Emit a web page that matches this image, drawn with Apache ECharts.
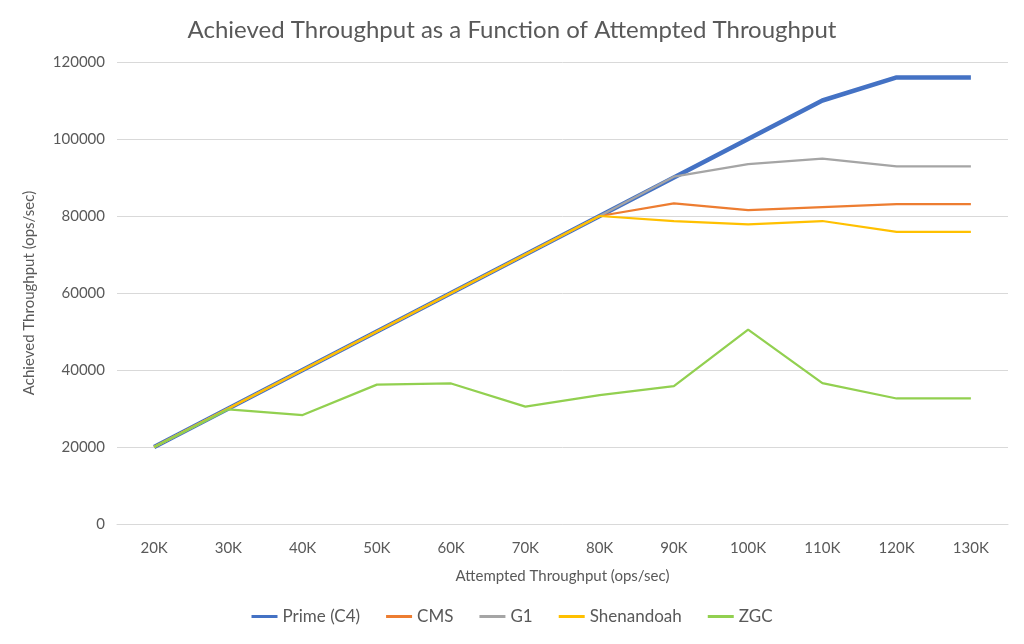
<!DOCTYPE html>
<html>
<head>
<meta charset="utf-8">
<script src="https://cdn.jsdelivr.net/npm/echarts@6/dist/echarts.min.js"></script>
<style>html,body{margin:0;padding:0;background:#fff}#c{width:1024px;height:644px}</style>
</head>
<body>
<div id="c"></div>
<script>
var categories = ['20K','30K','40K','50K','60K','70K','80K','90K','100K','110K','120K','130K'];
var prime = [20000,30000,40000,50000,60000,70000,80000,90000,100000,110000,116000,116000];
var cms = [20000,30000,40000,50000,60000,70000,80000,83300,81500,82300,83100,83100];
var g1 = [20000,30000,40000,50000,60000,70000,80000,90200,93500,94900,92900,92900];
var shenandoah = [20000,30000,40000,50000,60000,70000,80000,78700,77800,78700,75900,75900];
var zgc = [20000,29800,28300,36200,36500,30500,33500,35800,50500,36600,32600,32600];

var font = 'Lato, "Open Sans", sans-serif';
var chart = echarts.init(document.getElementById('c'));
function s(name, data, color, width) {
  return {name: name, type: 'line', data: data, symbol: 'none', smooth: false,
    lineStyle: {color: color, width: width}, itemStyle: {color: color}};
}
chart.setOption({
  animation: false,
  textStyle: {fontFamily: font},
  title: {text: 'Achieved Throughput as a Function of Attempted Throughput', left: 'center', top: 13,
    textStyle: {fontFamily: font, fontSize: 24, fontWeight: 'normal', color: '#595959'}},
  grid: {left: 117, right: 16, top: 62, bottom: 120},
  xAxis: {type: 'category', data: categories, boundaryGap: true,
    name: 'Attempted Throughput (ops/sec)', nameLocation: 'middle', nameGap: 45,
    nameTextStyle: {fontFamily: font, fontSize: 15, color: '#595959'},
    axisLine: {lineStyle: {color: '#d9d9d9', width: 1}}, axisTick: {show: false},
    axisLabel: {fontFamily: font, fontSize: 15, color: '#595959', margin: 17}},
  yAxis: {type: 'value', min: 0, max: 120000, interval: 20000,
    name: 'Achieved Throughput (ops/sec)', nameLocation: 'middle', nameGap: 80,
    nameTextStyle: {fontFamily: font, fontSize: 15, color: '#595959'},
    axisLine: {show: false}, axisTick: {show: false},
    splitLine: {lineStyle: {color: '#d9d9d9', width: 1}},
    axisLabel: {fontFamily: font, fontSize: 15, color: '#595959', margin: 12,
      formatter: function (v) { return String(v); }}},
  legend: {bottom: 14, left: 'center', itemWidth: 26, itemHeight: 3, itemGap: 26, icon: 'rect',
    textStyle: {fontFamily: font, fontSize: 17, color: '#595959'},
    data: [{name: 'Prime (C4)', itemStyle: {color: '#4472C4'}}, 'CMS', 'G1', 'Shenandoah', 'ZGC']},
  series: [
    s('Prime (C4)', prime, '#4472C4', 4.5),
    s('CMS', cms, '#ED7D31', 2.25),
    s('G1', g1, '#A5A5A5', 2.25),
    s('Shenandoah', shenandoah, '#FFC000', 2.25),
    s('ZGC', zgc, '#92D050', 2.25)
  ]
});
</script>
</body>
</html>
